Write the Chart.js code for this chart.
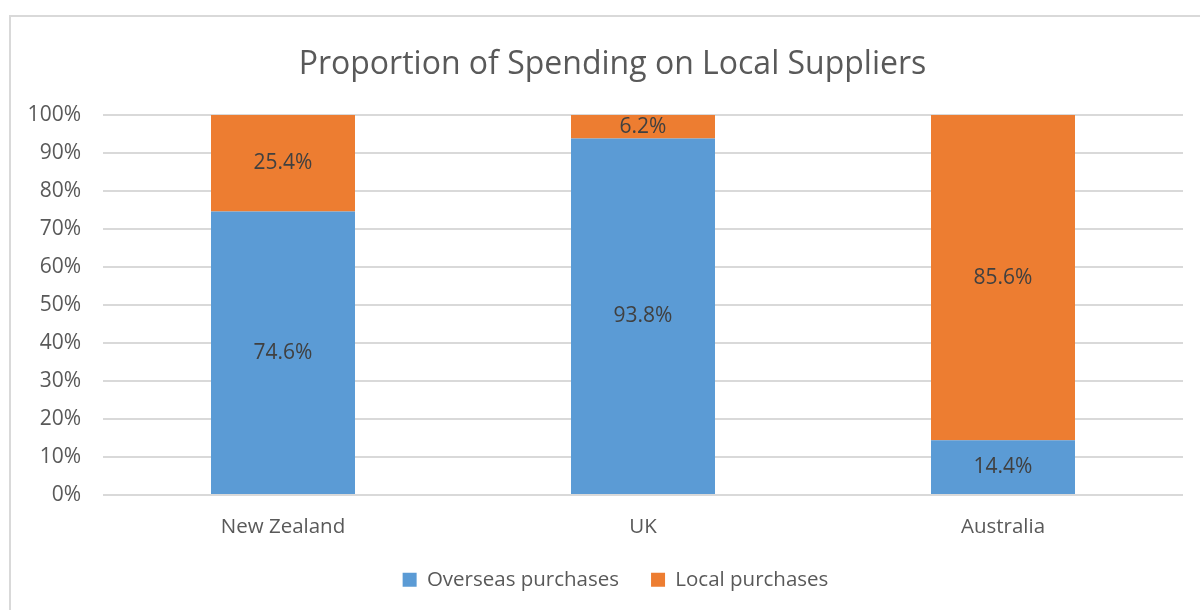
<!DOCTYPE html>
<html>
<head>
<meta charset="utf-8">
<script src="https://cdn.jsdelivr.net/npm/chart.js@4"></script>
<style>
  html, body { margin: 0; padding: 0; background: #fff; overflow: hidden; }
  #frame { position: absolute; left: 9px; top: 15px; width: 1300px; height: 700px; border: 2px solid #d9d9d9; box-sizing: border-box; }
  #wrap { position: absolute; left: 0; top: 0; width: 1200px; height: 610px; }
</style>
</head>
<body>
<div id="frame"></div>
<div id="wrap"><canvas id="chart"></canvas></div>
<script>
var countries = ["New Zealand", "UK", "Australia"];
var overseas = [74.6, 93.8, 14.4];
var local = [25.4, 6.2, 85.6];

var FONT = "'Open Sans', sans-serif";
Chart.defaults.font.family = FONT;
Chart.defaults.color = "#595959";

// draw the value in the middle of each bar segment
var barLabels = {
  id: "barLabels",
  afterDatasetsDraw: function (chart) {
    var ctx = chart.ctx;
    ctx.save();
    ctx.font = "21px " + FONT;
    ctx.fillStyle = "#404040";
    ctx.textAlign = "center";
    ctx.textBaseline = "middle";
    chart.data.datasets.forEach(function (ds, i) {
      var meta = chart.getDatasetMeta(i);
      meta.data.forEach(function (bar, j) {
        var mid = (bar.y + bar.base) / 2;
        ctx.fillText(ds.data[j].toFixed(1) + "%", bar.x, mid);
      });
    });
    ctx.restore();
  }
};

// title and legend sit centred on the outer frame, not the plot
var nudge = {
  id: "nudge",
  afterLayout: function (chart) {
    if (chart.titleBlock) { chart.titleBlock.left += 21; chart.titleBlock.right += 21; }
    if (chart.legend) { chart.legend.left += 24; chart.legend.right += 24; }
  }
};

var el = document.getElementById("chart");
var myChart = new Chart(el, {
  type: "bar",
  data: {
    labels: countries,
    datasets: [
      {
        label: "Overseas purchases",
        data: overseas,
        backgroundColor: "#5b9bd5",
        borderWidth: 0,
      },
      {
        label: "Local purchases",
        data: local,
        backgroundColor: "#ed7d31",
        borderWidth: 0,
      },
    ],
  },
  options: {
    responsive: true,
    maintainAspectRatio: false,
    animation: false,
    layout: { padding: { top: 26, right: 17, bottom: 10, left: 0 } },
    datasets: { bar: { barPercentage: 0.4, categoryPercentage: 1 } },
    plugins: {
      title: {
        display: true,
        text: "Proportion of Spending on Local Suppliers",
        color: "#595959",
        font: { size: 32, weight: "normal", family: FONT },
        padding: { top: 20, bottom: 30.5 },
      },
      legend: {
        position: "bottom",
        labels: {
          boxWidth: 14,
          boxHeight: 14,
          padding: 32,
          color: "#595959",
          font: { size: 20.5 },
        },
      },
      tooltip: { enabled: false },
    },
    scales: {
      x: {
        stacked: true,
        afterFit: function (s) { s.height = 42.5; },
        grid: { display: false },
        border: { display: false },
        ticks: { color: "#595959", font: { size: 20.5 }, padding: 12 },
      },
      y: {
        stacked: true,
        min: 0,
        max: 100,
        afterFit: function (s) { s.width = 103; },
        grid: { color: "#d9d9d9", lineWidth: 2, drawTicks: false },
        border: { display: false },
        ticks: {
          stepSize: 10,
          padding: 22,
          color: "#595959",
          font: { size: 21 },
          callback: function (v) { return v + "%"; },
        },
      },
    },
  },
  plugins: [barLabels, nudge],
});
</script>
</body>
</html>
